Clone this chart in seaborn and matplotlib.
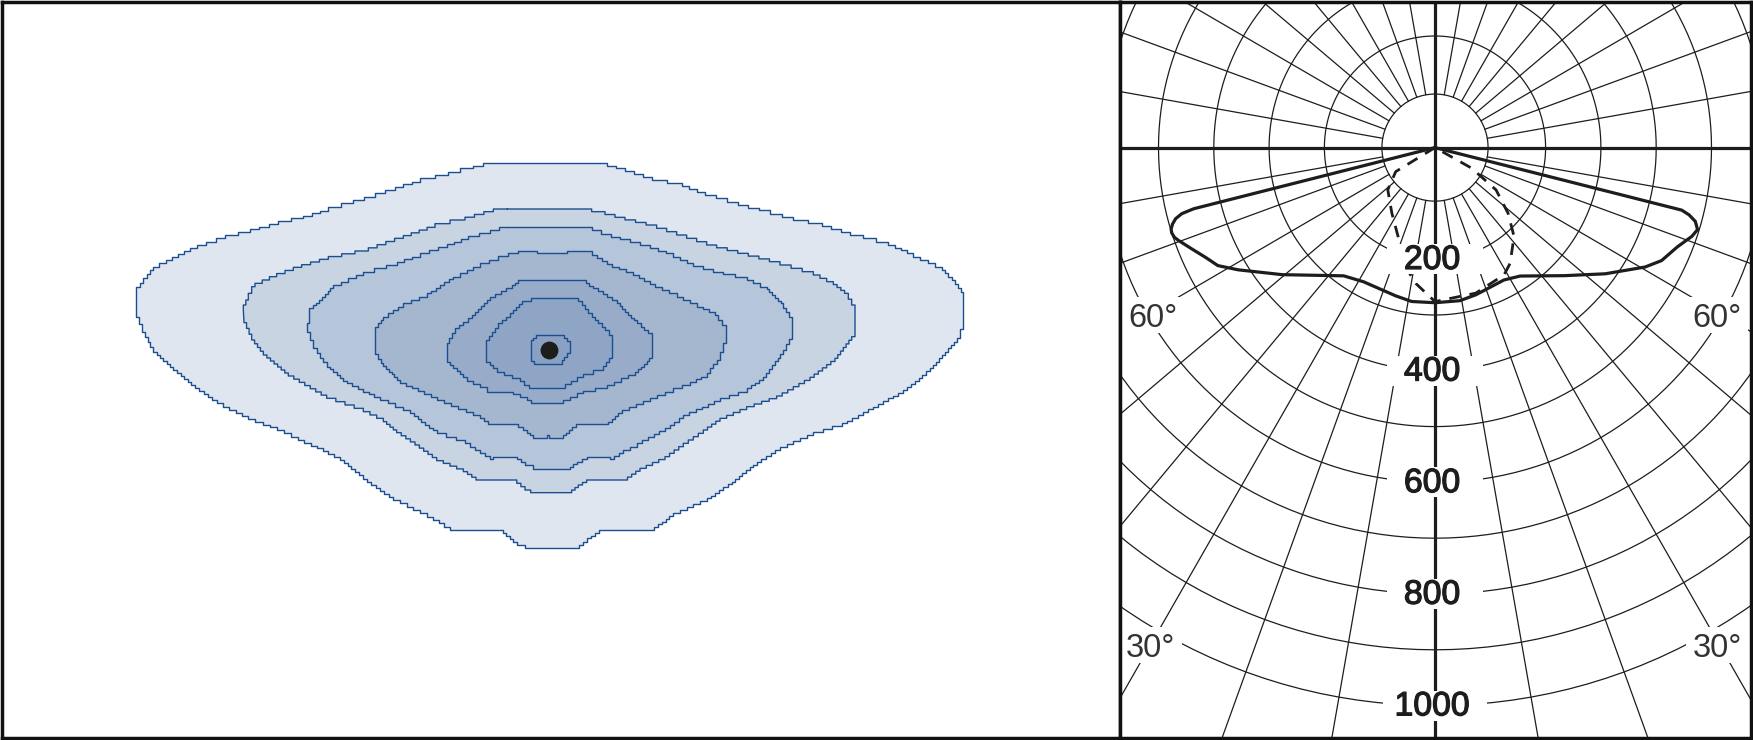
import numpy as np
import pandas as pd
import matplotlib.pyplot as plt
import matplotlib.patheffects as pe
from matplotlib.patches import Rectangle
import seaborn as sns

# isolux outlines (outer to inner)
iso_1_x = [1118, 1060, 1020, 945, 900, 825, 765, 700, 625, 550, 475, 390, 315, 230, 155, 100, 60, 47, 47, 65, 100, 160, 225, 290, 385, 470, 535, 590, 660, 740, 820, 880, 940, 990, 1138, 1190, 1215,
           1365, 1400, 1438, 1590, 1660, 1760, 1835, 1910, 1980, 2080, 2165, 2260, 2350, 2430, 2510, 2530, 2530, 2505, 2465, 2380, 2305, 2190, 2105, 2020, 1950, 1885, 1820, 1755, 1685, 1595, 1515, 1460]
iso_1_y = [70, 85, 95, 115, 125, 150, 170, 190, 212, 235, 252, 275, 295, 325, 360, 390, 440, 480, 530, 575, 635, 690, 745, 790, 838, 870, 900, 925, 960, 1025, 1080, 1110, 1140, 1170, 1170, 1215, 1224,
           1224, 1195, 1170, 1170, 1120, 1075, 1025, 965, 920, 875, 850, 800, 750, 685, 595, 540, 455, 420, 380, 340, 305, 275, 250, 232, 210, 195, 175, 155, 130, 110, 85, 70]
iso_2_x = [1162, 1120, 1035, 945, 850, 745, 625, 545, 470, 405, 385, 370, 372, 395, 430, 505, 620, 730, 790, 830, 885, 950, 1030, 1068, 1178, 1215, 1232,
           1345, 1375, 1400, 1510, 1560, 1635, 1690, 1750, 1800, 1880, 1970, 2070, 2145, 2195, 2205, 2205, 2185, 2140, 2080, 1980, 1885, 1790, 1700, 1610, 1515, 1455, 1415]
iso_2_y = [207, 215, 240, 262, 295, 333, 358, 382, 410, 440, 480, 510, 548, 600, 645, 708, 775, 815, 845, 878, 915, 962, 995, 1020, 1020, 1050, 1058,
           1058, 1035, 1020, 1020, 985, 950, 910, 870, 835, 800, 768, 712, 655, 590, 550, 495, 460, 425, 395, 365, 340, 315, 285, 255, 232, 215, 207]
iso_3_x = [1162, 1110, 1045, 980, 900, 830, 730, 640, 580, 568, 562, 580, 620, 680, 780, 870, 950, 1035, 1110, 1120, 1178, 1215, 1240,
           1338, 1370, 1400, 1455, 1470, 1510, 1550, 1635, 1690, 1800, 1880, 1930, 1990, 2015, 2015, 1990, 1940, 1880, 1810, 1720, 1660, 1590, 1500, 1415]
iso_3_y = [262, 280, 297, 320, 350, 375, 405, 445, 505, 550, 575, 625, 680, 730, 780, 820, 880, 910, 958, 950, 950, 975, 988,
           988, 965, 950, 950, 957, 930, 910, 865, 825, 775, 745, 710, 630, 580, 530, 490, 440, 410, 395, 370, 340, 315, 290, 262]
iso_4_x = [1195, 1240, 1250, 1330, 1340, 1385, 1415, 1475, 1540, 1605, 1670, 1730, 1785, 1805, 1818, 1818, 1800, 1760, 1710, 1610, 1505, 1465, 1380, 1355, 1330, 1295, 1288, 1280, 1250, 1220, 1195, 1115, 1080, 950, 840, 790, 765, 765, 790, 850, 920, 1000, 1080, 1135]
iso_4_y = [332, 332, 340, 340, 332, 332, 345, 380, 405, 440, 470, 500, 525, 555, 580, 610, 660, 710, 735, 775, 820, 853, 853, 870, 893, 893, 885, 893, 893, 870, 853, 853, 825, 770, 720, 670, 630, 560, 530, 490, 460, 410, 370, 348]
iso_5_x = [1195, 1385, 1420, 1490, 1550, 1585, 1597, 1597, 1545, 1460, 1390, 1330, 1248, 1220, 1180, 1100, 1040, 990, 980, 980, 1005, 1055, 1110, 1175]
iso_5_y = [420, 420, 445, 490, 550, 580, 605, 655, 705, 745, 760, 790, 790, 770, 755, 742, 712, 665, 640, 610, 565, 525, 470, 435]
iso_6_x = [1232, 1345, 1375, 1415, 1455, 1477, 1477, 1450, 1390, 1335, 1240, 1200, 1130, 1098, 1098, 1135, 1180, 1205]
iso_6_y = [475, 475, 483, 530, 570, 600, 655, 690, 712, 743, 743, 715, 685, 655, 600, 550, 510, 483]
iso_7_x = [1248, 1325, 1350, 1350, 1325, 1250, 1232, 1232]
iso_7_y = [585, 585, 610, 640, 672, 672, 655, 600]
iso_colors = ["#e0e6f0", "#c8d4e2", "#b5c5da", "#a5b6cf", "#98acca", "#8fa5c5", "#8ba1c3"]
spot_x = [1288]
spot_y = [630]

# luminous intensity curves (degrees from nadir, cd)
solid_angle = [-76.0, -75.9, -75.5, -74.8, -73.9, -73.0, -72.2, -71.2, -70.3, -67.6, -64.6, -61.7, -58.4, -50.5, -35.7, -28.3, -15, -8.7, 0, 9.3, 15.6, 27.7, 33.8, 45.6, 53.7, 60.6, 63.7, 67.9, 71.1, 72.8, 74.3, 75.3, 75.9, 76.5]
solid_cd = [0, 450, 473, 486, 494, 499, 500, 498, 493, 476, 459, 446, 418, 358, 283, 273, 275, 279, 278, 278, 274, 268, 277, 328, 382, 436, 457, 473, 491, 497, 489, 475, 460, 0]
dash_angle = [-63, -58.8, -48.5, -33.6, -18.2, -14, -8.1, 0, 15.8, 28.7, 33.2, 41.9, 48.3, 55.5, 60.9, 70]
dash_cd = [0, 83, 114, 141, 193, 220, 246, 276, 271, 260, 248, 214, 177, 134, 76, 0]

ring_values = [96, 200, 300, 400, 500, 600, 700, 800, 900, 1000]
ring_labels = ["200", "400", "600", "800", "1000"]
ring_label_values = [200, 400, 600, 800, 1000]
angle_labels = ["60°", "60°", "30°", "30°"]
angle_label_x = [-510, 510, -514, 510]
angle_label_y = [-300, -300, -891, -891]


def stairs(xs, ys, step=9):
    # jagged outline as the plotting program drew it
    out_x, out_y = [], []
    for i in range(len(xs)):
        x0, y0 = xs[i], ys[i]
        x1, y1 = xs[(i + 1) % len(xs)], ys[(i + 1) % len(xs)]
        n = int(round(min(abs(x1 - x0), abs(y1 - y0)) / step))
        out_x.append(x0)
        out_y.append(y0)
        for k in range(n):
            xa = x0 + (x1 - x0) * (k + 1) / n
            ya = y0 + (y1 - y0) * k / n
            yb = y0 + (y1 - y0) * (k + 1) / n
            out_x += [xa, xa]
            out_y += [ya, yb]
    out_x.append(out_x[0])
    out_y.append(out_y[0])
    return out_x, out_y


def polar_xy(angle, cd):
    t = np.radians(angle)
    return np.array(cd) * np.sin(t), -np.array(cd) * np.cos(t)


sns.set_theme(style="white")
plt.rcParams["font.family"] = ["Liberation Sans", "DejaVu Sans"]

W, H = 1753, 740
fig = plt.figure(figsize=(W / 100, H / 100), dpi=100)
ax1 = fig.add_axes([2 / W, 2 / H, 1118 / W, 736 / H])
ax2 = fig.add_axes([1120 / W, 2 / H, 631 / W, 736 / H])

# left panel
outlines = [(iso_1_x, iso_1_y), (iso_2_x, iso_2_y), (iso_3_x, iso_3_y), (iso_4_x, iso_4_y),
            (iso_5_x, iso_5_y), (iso_6_x, iso_6_y), (iso_7_x, iso_7_y)]
for (xs, ys), col in zip(outlines, iso_colors):
    sx, sy = stairs(xs, ys)
    ax1.fill(sx, sy, color=col, lw=0)
    sns.lineplot(x=sx, y=sy, sort=False, estimator=None, color="#1c4f8f", lw=1.0, ax=ax1)
sns.scatterplot(x=spot_x, y=spot_y, s=165, color="#1d1d1b", linewidth=0, zorder=5, ax=ax1)
ax1.set_xlim(-354, 3000)
ax1.set_ylim(1794, -414)
ax1.set_xticks([])
ax1.set_yticks([])

# right panel
th = np.radians(np.arange(0, 361, 2))
for r in ring_values:
    ax2.plot(r * np.cos(th), r * np.sin(th), color="#1d1d1b", lw=0.9, zorder=1)
for a in range(0, 360, 10):
    if a % 90 == 0:
        continue
    sx, sy = polar_xy([a, a], [96, 1300])
    ax2.plot(sx, sy, color="#1d1d1b", lw=0.9, zorder=1)
ax2.axhline(0, color="#1d1d1b", lw=2.3, zorder=2)
ax2.axvline(0, color="#1d1d1b", lw=2.3, zorder=2)

sx, sy = polar_xy(solid_angle, solid_cd)
sns.lineplot(data=pd.DataFrame({"x": sx, "y": sy}), x="x", y="y", sort=False, estimator=None,
             color="#1d1d1b", lw=2.3, zorder=3, ax=ax2)
sx, sy = polar_xy(dash_angle, dash_cd)
sns.lineplot(data=pd.DataFrame({"x": sx, "y": sy}), x="x", y="y", sort=False, estimator=None,
             color="#1d1d1b", lw=2.0, linestyle=(0, (4.2, 3.2)), zorder=3, ax=ax2)

for lab, v in zip(ring_labels, ring_label_values):
    w = 188 if v == 1000 else 174
    ax2.add_patch(Rectangle((-w / 2, -v - 27), w, 54, fc="white", ec="none", zorder=4))
    ax2.text(-5, -v + 4, lab, ha="center", va="center_baseline", fontsize=24.3, color="#1d1d1b", zorder=5,
             path_effects=[pe.withStroke(linewidth=0.9, foreground="#1d1d1b")])
for lab, x, y in zip(angle_labels, angle_label_x, angle_label_y):
    ax2.add_patch(Rectangle((x - 56, y - 32), 112, 64, fc="white", ec="none", zorder=4))
    ax2.text(x, y, lab, ha="center", va="center_baseline", fontsize=23.5, color="#333333", zorder=5)

ax2.set_xlim((1120 - 1435) / 0.553, (1751 - 1435) / 0.553)
ax2.set_ylim((147.6 - 738) / 0.558, (147.6 - 2) / 0.558)
ax2.set_xticks([])
ax2.set_yticks([])
ax2.set_xlabel("")
ax2.set_ylabel("")

for ax in (ax1, ax2):
    for s in ax.spines.values():
        s.set_visible(True)
        s.set_color("#111111")
        s.set_linewidth(2.5)
        s.set_zorder(10)

plt.savefig("out.png", dpi=100)
plt.close()
